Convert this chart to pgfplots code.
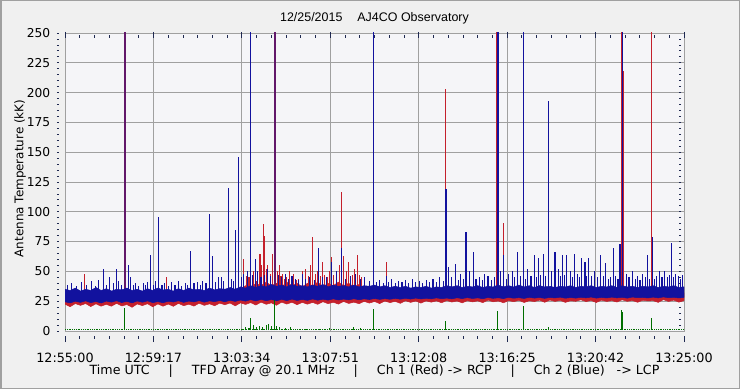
\documentclass[border=0pt]{standalone}
\usepackage{pgfplots}
\pgfplotsset{compat=1.18}
\usepackage{fontspec}
\setmainfont{DejaVu Sans}
\newfontfamily\titlefont{Liberation Sans}
\definecolor{outerbg}{HTML}{F0F0F0}
\definecolor{plotbg}{HTML}{F5F5F8}
\definecolor{gridc}{HTML}{A0A0A0}
\definecolor{bluec}{HTML}{12129E}
\definecolor{redc}{HTML}{C4202C}
\definecolor{greenc}{HTML}{006E00}
\definecolor{tickc}{HTML}{1E2850}
\begin{document}
\begin{tikzpicture}
\path[use as bounding box, fill=outerbg] (0,0) rectangle (740bp,389bp);
\draw[gridc, line width=1.5bp] (0.75bp,0.75bp) rectangle (739.25bp,388.25bp);
\begin{axis}[
  scale only axis, width=619bp, height=298bp,
  at={(65bp,58bp)}, anchor=south west,
  xmin=0, xmax=1800, ymin=0, ymax=250,
  axis background/.style={fill=plotbg},
  axis line style={gridc, line width=0.8bp},
  grid=major, major grid style={gridc, line width=0.8bp},
  xtick={0,257.142857,514.285714,771.428571,1028.571429,1285.714286,1542.857143,1800},
  xticklabels={12:55:00,12:59:17,13:03:34,13:07:51,13:12:08,13:16:25,13:20:42,13:25:00},
  minor x tick num=5,
  ytick={0,25,50,75,100,125,150,175,200,225,250},
  yticklabels={0,25,50,75,100,125,150,175,200,225,250},
  minor y tick num=4,
  tick align=outside,
  major tick length=2.5bp, minor tick length=2.5bp,
  xtick style={yshift=-5bp, tickc, line width=0.8bp},
  ytick style={xshift=-5.5bp, tickc, line width=0.8bp},
  extra x ticks={0,257.142857,514.285714,771.428571,1028.571429,1285.714286,1542.857143,1800},
  extra x tick labels={},
  extra x tick style={major tick length=6bp, grid=none},
  xticklabel style={font=\fontsize{12.8}{14}\selectfont, anchor=base, yshift=-29bp},
  yticklabel style={font=\fontsize{12.3}{14}\selectfont, anchor=east, inner sep=0pt, xshift=-12bp},
  unbounded coords=jump, filter discard warning=false,
  clip=true,
]
% Red (RCP) noise band
\addplot[fill=redc, draw=redc, line width=0.5bp] coordinates {
(0,30)(30,31)(60,30)(90,31.5)(120,30.5)(150,31)(180,30)(210,31)(240,30.5)(270,31.5)(300,30)(330,31)(360,30.5)(390,31)(420,30.5)(450,31.5)(480,32)(510,35)(525,38)(540,36)(555,40)(570,38)(585,41)(600,38)(615,40)(630,37)(645,41)(660,38)(675,40)(690,37)(705,40)(720,38)(735,41)(750,37)(765,40)(780,38)(795,41)(810,38)(825,40)(840,37)(855,39)(870,35)(900,32)(930,31.5)(960,32)(990,31)(1020,32)(1050,31.5)(1080,32)(1110,31.5)(1140,32)(1170,31.5)(1200,32)(1230,31.5)(1260,32)(1290,31.5)(1320,32)(1350,31.5)(1380,32)(1410,31.5)(1440,32)(1470,31.5)(1500,32)(1530,31.5)(1560,32)(1590,31.5)(1620,32)(1650,31.5)(1680,32)(1710,31.5)(1740,32)(1770,31.5)(1800,32)
(1800,25.5)(1785,24.2)(1770,25.9)(1755,24.8)(1740,26.3)(1725,24)(1710,25.5)(1695,25.2)(1680,25.8)(1665,24.1)(1650,25.6)(1635,24.9)(1620,26.2)(1605,24.3)(1590,25.5)(1575,24.8)(1560,25.9)(1545,23.9)(1530,25.6)(1515,24.7)(1500,26.2)(1485,24.9)(1470,25.4)(1455,24)(1440,25.7)(1425,24.8)(1410,26)(1395,24.1)(1380,25.9)(1365,24.7)(1350,25.4)(1335,23.9)(1320,25.8)(1305,24.6)(1290,25.5)(1275,23.7)(1260,25.2)(1245,24.5)(1230,25.9)(1215,23.8)(1200,25.3)(1185,24.4)(1170,25.5)(1155,23.6)(1140,25.2)(1125,24.3)(1110,25.6)(1095,23.7)(1080,25.3)(1065,24.2)(1050,25.3)(1035,23.4)(1020,25.2)(1005,24)(990,25.4)(975,23.2)(960,24.9)(945,23.8)(930,25.2)(915,23)(900,24.8)(885,23.4)(870,24.9)(855,22.9)(840,24.2)(825,23.1)(810,24.8)(795,22.6)(780,24.1)(765,22.9)(750,24.6)(735,22.4)(720,24)(705,22.5)(690,24)(675,22.1)(660,24.1)(645,22.6)(630,24.2)(615,21.6)(600,23.6)(585,22.4)(570,24.2)(555,21.8)(540,23.8)(525,22.3)(510,23.6)(495,21.1)(480,23.5)(465,22)(450,23.4)(435,21.2)(420,22.8)(405,21.5)(390,23.3)(375,20.9)(360,22.5)(345,21.2)(330,23.2)(315,20.7)(300,22.6)(285,20.8)(270,22.7)(255,20.3)(240,22.9)(225,21.3)(210,22.7)(195,19.9)(180,22.2)(165,21)(150,23.2)(135,20.8)(120,22.4)(105,20.8)(90,22.8)(75,20.5)(60,23)(45,21.5)(30,23)(15,20.4)(0,22.5)
} -- cycle;
% Red spikes
\addplot[redc, line width=1.1bp] coordinates {
(58,27)(58,48)(58,nan)(296,27)(296,45)(296,nan)
(519,27)(519,60)(519,nan)(527,27)(527,46)(527,nan)(535,27)(535,45)(535,nan)(548,27)(548,50)(548,nan)(558,27)(558,42)(558,nan)
(567,27)(567,65)(567,nan)(572,27)(572,55)(572,nan)(576.6,27)(576.6,90)(576.6,nan)(580.7,27)(580.7,80)(580.7,nan)(586,27)(586,52)(586,nan)
(590,27)(590,55)(590,nan)(597,27)(597,48)(597,nan)(604,27)(604,65)(604,nan)(618,27)(618,50)(618,nan)
(623,27)(623,55)(623,nan)(628,27)(628,46)(628,nan)(632,27)(632,48)(632,nan)(638,27)(638,44)(638,nan)(645,27)(645,45)(645,nan)
(652,27)(652,50)(652,nan)(664,27)(664,48)(664,nan)(672,27)(672,43)(672,nan)(680,27)(680,44)(680,nan)(690,27)(690,50)(690,nan)
(700,27)(700,52)(700,nan)(707,27)(707,46)(707,nan)(714,27)(714,55)(714,nan)(720.3,27)(720.3,79)(720.3,nan)(728,27)(728,48)(728,nan)
(735,27)(735,50)(735,nan)(742,27)(742,46)(742,nan)(749,27)(749,58)(749,nan)(755,27)(755,47)(755,nan)(762,27)(762,45)(762,nan)
(770,27)(770,50)(770,nan)(775.6,27)(775.6,62)(775.6,nan)(782,27)(782,47)(782,nan)(790,27)(790,48)(790,nan)(797,27)(797,55)(797,nan)
(803,27)(803,117)(803,nan)(811,27)(811,63)(811,nan)(818,27)(818,50)(818,nan)(824,27)(824,58)(824,nan)(830,27)(830,45)(830,nan)
(836,27)(836,47)(836,nan)(843,27)(843,52)(843,nan)(850,27)(850,64)(850,nan)(856,27)(856,47)(856,nan)(862,27)(862,45)(862,nan)
(870,27)(870,42)(870,nan)(935,27)(935,58)(935,nan)(1106,27)(1106,203)(1106,nan)(1256,27)(1256,262)(1256,nan)
(1275,27)(1275,91)(1275,nan)(1618,27)(1618,262)(1618,nan)(1624,27)(1624,218)(1624,nan)(1705,27)(1705,262)(1705,nan)
};
\addplot[redc, line width=1.8bp] coordinates {
(174,27)(174,262)(174,nan)(611,27)(611,262)(611,nan)
};
% Blue (LCP) noise band
\addplot[fill=bluec, draw=bluec, line width=0.5bp] coordinates {
(0,35)(15,34)(30,36)(45,33.5)(60,35)(75,34)(90,36.5)(105,34)(120,35.5)(135,33.5)(150,35)(165,34.5)(180,36)(195,34)(210,35)(225,33.5)(240,35.5)(255,34)(270,36)(285,34.5)(300,35)(315,33.5)(330,35.5)(345,34)(360,36)(375,34.5)(390,35)(405,34)(420,36)(435,34.5)(450,35.5)(465,35)(480,36.5)(495,35)(510,37)(525,36)(540,38)(555,36.5)(570,38)(585,37)(600,39)(615,37.5)(630,38.5)(645,37)(660,39)(675,37.5)(690,38)(705,37)(720,38.5)(735,37.5)(750,39)(765,37)(780,38.5)(795,37.5)(810,38)(825,37)(840,38.5)(855,37)(870,38)(885,37.5)(900,38.5)(915,37)(930,38)(945,36.5)(960,37.5)(975,36.5)(990,37.5)(1005,36)(1020,37)(1035,36.5)(1050,37.5)(1065,36)(1080,37)(1095,36.5)(1110,38)(1125,37)(1140,38)(1155,36.5)(1170,37.5)(1185,37)(1200,38)(1215,36.5)(1230,37.5)(1245,37)(1260,38.5)(1275,37)(1290,38)(1305,37)(1320,38.5)(1335,37)(1350,38)(1365,36.5)(1380,38)(1395,37)(1410,37.5)(1425,36.5)(1440,37.5)(1455,37)(1470,38)(1485,36.5)(1500,37.5)(1515,37)(1530,38)(1545,36.5)(1560,37.5)(1575,37)(1590,38)(1605,36.5)(1620,38)(1635,37)(1650,37.5)(1665,36.5)(1680,37.5)(1695,37)(1710,38)(1725,36.5)(1740,37.5)(1755,37)(1770,38)(1785,36.5)(1800,37)
(1800,28.2)(1785,27.7)(1770,28.3)(1755,27.9)(1740,28.6)(1725,27.8)(1710,28.4)(1695,27.7)(1680,28.2)(1665,27.9)(1650,28.5)(1635,27.6)(1620,28.3)(1605,27.8)(1590,28.4)(1575,27.7)(1560,28.2)(1545,27.6)(1530,28.5)(1515,27.8)(1500,28.3)(1485,27.6)(1470,28.1)(1455,27.5)(1440,28.4)(1425,27.7)(1410,28.2)(1395,27.4)(1380,28.1)(1365,27.6)(1350,28.3)(1335,27.3)(1320,28)(1305,27.5)(1290,28.2)(1275,27.2)(1260,27.9)(1245,27.4)(1230,28.1)(1215,27.1)(1200,27.8)(1185,27.3)(1170,28)(1155,27.2)(1140,27.9)(1125,27)(1110,27.6)(1095,27.1)(1080,27.8)(1065,27)(1050,27.5)(1035,26.9)(1020,27.6)(1005,26.8)(990,27.5)(975,26.7)(960,27.4)(945,26.6)(930,27.2)(915,26.5)(900,27.3)(885,26.4)(870,27)(855,26.2)(840,27.1)(825,26.1)(810,26.8)(795,26)(780,27)(765,25.9)(750,26.7)(735,25.8)(720,26.9)(705,25.7)(690,26.5)(675,25.6)(660,26.8)(645,25.5)(630,26.6)(615,25.3)(600,26.4)(585,25.4)(570,26.5)(555,25.2)(540,26.3)(525,25.1)(510,26)(495,24.8)(480,25.8)(465,24.5)(450,25.6)(435,24.6)(420,25.3)(405,24.2)(390,25.5)(375,24.4)(360,25.1)(345,24)(330,25.4)(315,24.3)(300,25)(285,23.7)(270,24.7)(255,23.8)(240,25.3)(225,24.1)(210,25.2)(195,23.6)(180,24.9)(165,23.9)(150,25.4)(135,24.2)(120,25.1)(105,23.5)(90,24.8)(75,23.8)(60,25.3)(45,24)(30,25)(15,23.6)(0,24.5)
} -- cycle;
% Blue spikes
\addplot[bluec, line width=1.1bp] coordinates {
(8,33)(8,39)(8,nan)(20,33)(20,40)(20,nan)(33,33)(33,38)(33,nan)(47,33)(47,41)(47,nan)(62,33)(62,39)(62,nan)(78,33)(78,42)(78,nan)
(88,33)(88,38)(88,nan)(97,33)(97,43)(97,nan)(111,33)(111,52)(111,nan)(121,33)(121,39)(121,nan)(129,33)(129,45)(129,nan)(140,33)(140,40)(140,nan)
(150,33)(150,52)(150,nan)(156,33)(156,42)(156,nan)(165,33)(165,39)(165,nan)(184,33)(184,55)(184,nan)(191,33)(191,45)(191,nan)
(199,33)(199,39)(199,nan)(205,33)(205,40)(205,nan)(215,33)(215,38)(215,nan)(227,33)(227,40)(227,nan)(235,33)(235,39)(235,nan)(240,33)(240,41)(240,nan)
(249,33)(249,64)(249,nan)(257,33)(257,39)(257,nan)(264,33)(264,42)(264,nan)(273,33)(273,96)(273,nan)(282,33)(282,39)(282,nan)(290,33)(290,40)(290,nan)
(300,33)(300,38)(300,nan)(310,33)(310,41)(310,nan)(320,33)(320,39)(320,nan)(330,33)(330,42)(330,nan)(340,33)(340,38)(340,nan)(350,33)(350,40)(350,nan)
(357,33)(357,39)(357,nan)(364,33)(364,67)(364,nan)(375,33)(375,40)(375,nan)(385,33)(385,41)(385,nan)(393,33)(393,39)(393,nan)(400,33)(400,42)(400,nan)
(410,33)(410,40)(410,nan)(420,33)(420,98)(420,nan)(428,33)(428,63)(428,nan)(437,33)(437,41)(437,nan)(446,33)(446,45)(446,nan)(455,33)(455,45)(455,nan)
(462,33)(462,42)(462,nan)(475,33)(475,120)(475,nan)(483,33)(483,44)(483,nan)(490,33)(490,42)(490,nan)(497,33)(497,85)(497,nan)(505,33)(505,146)(505,nan)
(512,33)(512,45)(512,nan)(520,33)(520,48)(520,nan)(530,33)(530,50)(530,nan)(540,33)(540,262)(540,nan)(546,33)(546,47)(546,nan)(553,33)(553,60)(553,nan)
(560,33)(560,50)(560,nan)(570,33)(570,45)(570,nan)(580,33)(580,47)(580,nan)(590,33)(590,52)(590,nan)(598,33)(598,46)(598,nan)
(620,33)(620,47)(620,nan)(630,33)(630,45)(630,nan)(640,33)(640,48)(640,nan)(650,33)(650,44)(650,nan)(660,33)(660,46)(660,nan)(670,33)(670,44)(670,nan)
(680,33)(680,43)(680,nan)(690,33)(690,48)(690,nan)(700,33)(700,44)(700,nan)(710,33)(710,45)(710,nan)(725,33)(725,43)(725,nan)(737,33)(737,70)(737,nan)
(748,33)(748,45)(748,nan)(760,33)(760,45)(760,nan)(776,33)(776,58)(776,nan)(790,33)(790,50)(790,nan)(805,33)(805,70)(805,nan)(815,33)(815,44)(815,nan)
(830,33)(830,46)(830,nan)(845,33)(845,48)(845,nan)(858,33)(858,44)(858,nan)(870,33)(870,45)(870,nan)(885,33)(885,42)(885,nan)(897,33)(897,262)(897,nan)
(905,33)(905,41)(905,nan)(915,33)(915,43)(915,nan)(925,33)(925,40)(925,nan)(935,33)(935,46)(935,nan)(942,33)(942,41)(942,nan)(950,33)(950,44)(950,nan)
(960,33)(960,40)(960,nan)(970,33)(970,42)(970,nan)(980,33)(980,41)(980,nan)(990,33)(990,43)(990,nan)(1000,33)(1000,40)(1000,nan)(1010,33)(1010,44)(1010,nan)
(1020,33)(1020,41)(1020,nan)(1030,33)(1030,42)(1030,nan)(1040,33)(1040,40)(1040,nan)(1050,33)(1050,43)(1050,nan)(1060,33)(1060,41)(1060,nan)(1070,33)(1070,44)(1070,nan)
(1080,33)(1080,41)(1080,nan)(1090,33)(1090,45)(1090,nan)(1100,33)(1100,42)(1100,nan)(1108,33)(1108,119)(1108,nan)(1115,33)(1115,54)(1115,nan)(1125,33)(1125,45)(1125,nan)
(1136,33)(1136,56)(1136,nan)(1145,33)(1145,43)(1145,nan)(1150,33)(1150,48)(1150,nan)(1158,33)(1158,44)(1158,nan)(1166,33)(1166,83)(1166,nan)(1175,33)(1175,50)(1175,nan)
(1187,33)(1187,66)(1187,nan)(1195,33)(1195,44)(1195,nan)(1205,33)(1205,45)(1205,nan)(1213,33)(1213,43)(1213,nan)(1221,33)(1221,48)(1221,nan)(1230,33)(1230,46)(1230,nan)
(1240,33)(1240,43)(1240,nan)(1249,33)(1249,45)(1249,nan)(1259,33)(1259,262)(1259,nan)(1266,33)(1266,50)(1266,nan)(1276,33)(1276,64)(1276,nan)(1284,33)(1284,44)(1284,nan)
(1290,33)(1290,48)(1290,nan)(1300,33)(1300,50)(1300,nan)(1308,33)(1308,45)(1308,nan)(1316,33)(1316,66)(1316,nan)(1324,33)(1324,46)(1324,nan)(1334,33)(1334,262)(1334,nan)
(1340,33)(1340,44)(1340,nan)(1345,33)(1345,52)(1345,nan)(1355,33)(1355,46)(1355,nan)(1364,33)(1364,64)(1364,nan)(1370,33)(1370,45)(1370,nan)(1376,33)(1376,61)(1376,nan)
(1383,33)(1383,47)(1383,nan)(1391,33)(1391,65)(1391,nan)(1398,33)(1398,46)(1398,nan)(1405,33)(1405,193)(1405,nan)(1415,33)(1415,50)(1415,nan)(1425,33)(1425,66)(1425,nan)
(1435,33)(1435,52)(1435,nan)(1441,33)(1441,46)(1441,nan)(1447,33)(1447,64)(1447,nan)(1453,33)(1453,47)(1453,nan)(1459,33)(1459,64)(1459,nan)(1470,33)(1470,50)(1470,nan)
(1476,33)(1476,45)(1476,nan)(1481,33)(1481,65)(1481,nan)(1490,33)(1490,48)(1490,nan)(1496,33)(1496,45)(1496,nan)(1503,33)(1503,61)(1503,nan)(1512,33)(1512,58)(1512,nan)
(1517,33)(1517,46)(1517,nan)(1523,33)(1523,61)(1523,nan)(1532,33)(1532,46)(1532,nan)(1540,33)(1540,50)(1540,nan)(1548,33)(1548,45)(1548,nan)(1558,33)(1558,64)(1558,nan)
(1565,33)(1565,46)(1565,nan)(1573,33)(1573,57)(1573,nan)(1580,33)(1580,44)(1580,nan)(1585,33)(1585,45)(1585,nan)(1594,33)(1594,70)(1594,nan)(1602,33)(1602,46)(1602,nan)
(1608,33)(1608,44)(1608,nan)(1614,33)(1614,73)(1614,nan)(1620.5,33)(1620.5,262)(1620.5,nan)(1632,33)(1632,48)(1632,nan)(1640,33)(1640,45)(1640,nan)(1651,33)(1651,50)(1651,nan)
(1658,33)(1658,44)(1658,nan)(1665,33)(1665,46)(1665,nan)(1672,33)(1672,43)(1672,nan)(1680,33)(1680,48)(1680,nan)(1687,33)(1687,45)(1687,nan)(1693,33)(1693,64)(1693,nan)
(1700,33)(1700,44)(1700,nan)(1707.5,33)(1707.5,79)(1707.5,nan)(1714,33)(1714,44)(1714,nan)(1720,33)(1720,46)(1720,nan)(1730,33)(1730,50)(1730,nan)(1736,33)(1736,45)(1736,nan)
(1742,33)(1742,50)(1742,nan)(1752,33)(1752,45)(1752,nan)(1758,33)(1758,47)(1758,nan)(1764,33)(1764,74)(1764,nan)(1770,33)(1770,45)(1770,nan)(1775,33)(1775,48)(1775,nan)
(1783,33)(1783,46)(1783,nan)(1790,33)(1790,44)(1790,nan)(1796,33)(1796,47)(1796,nan)
};
% Blue spikes coinciding with red ones (blend to purple)
\addplot[bluec, line width=1.8bp, opacity=0.55] coordinates {
(174,33)(174,262)(174,nan)(611,33)(611,262)(611,nan)
};
% Green channel baseline
\addplot[greenc, line width=0.8bp, densely dotted] coordinates {(0,1)(1800,1)};
% Green spikes
\addplot[greenc, line width=1.1bp] coordinates {
(172.5,0.8)(172.5,19.4)(172.5,nan)(515,0.8)(515,2)(515,nan)(525,0.8)(525,3)(525,nan)(535,0.8)(535,2.5)(535,nan)
(540,0.8)(540,11)(540,nan)(548,0.8)(548,5)(548,nan)(556,0.8)(556,3)(556,nan)(565,0.8)(565,4)(565,nan)
(575,0.8)(575,3.5)(575,nan)(585,0.8)(585,5)(585,nan)(592,0.8)(592,6)(592,nan)(600,0.8)(600,4)(600,nan)
(608.6,0.8)(608.6,25.6)(608.6,nan)(615,0.8)(615,4)(615,nan)(625,0.8)(625,3)(625,nan)(640,0.8)(640,2.5)(640,nan)
(655,0.8)(655,3)(655,nan)(670,0.8)(670,2)(670,nan)(700,0.8)(700,2)(700,nan)(740,0.8)(740,2)(740,nan)
(770,0.8)(770,2.5)(770,nan)(810,0.8)(810,2)(810,nan)(840,0.8)(840,3)(840,nan)(860,0.8)(860,2.5)(860,nan)
(896.5,0.8)(896.5,18.6)(896.5,nan)(1107,0.8)(1107,8)(1107,nan)(1258,0.8)(1258,17)(1258,nan)(1332.7,0.8)(1332.7,21)(1332.7,nan)
(1406.6,0.8)(1406.6,3)(1406.6,nan)(1619,0.8)(1619,18)(1619,nan)(1621.5,0.8)(1621.5,16)(1621.5,nan)(1705.5,0.8)(1705.5,11)(1705.5,nan)
};
\end{axis}
\node[font=\titlefont\fontsize{12.5}{14}\selectfont] at (374.5bp,371bp) {12/25/2015\hspace{15bp}AJ4CO Observatory};
\node[rotate=90, font=\fontsize{12}{14}\selectfont] at (20bp,210.5bp) {Antenna Temperature (kK)};
\node[font=\fontsize{12.7}{14}\selectfont] at (374.5bp,18bp) {Time UTC\hspace{19bp}|\hspace{19bp}TFD Array @ 20.1 MHz\hspace{19bp}|\hspace{19bp}Ch 1 (Red) -> RCP\hspace{19bp}|\hspace{19bp}Ch 2 (Blue)\hspace{12bp}-> LCP};
\end{tikzpicture}
\end{document}
